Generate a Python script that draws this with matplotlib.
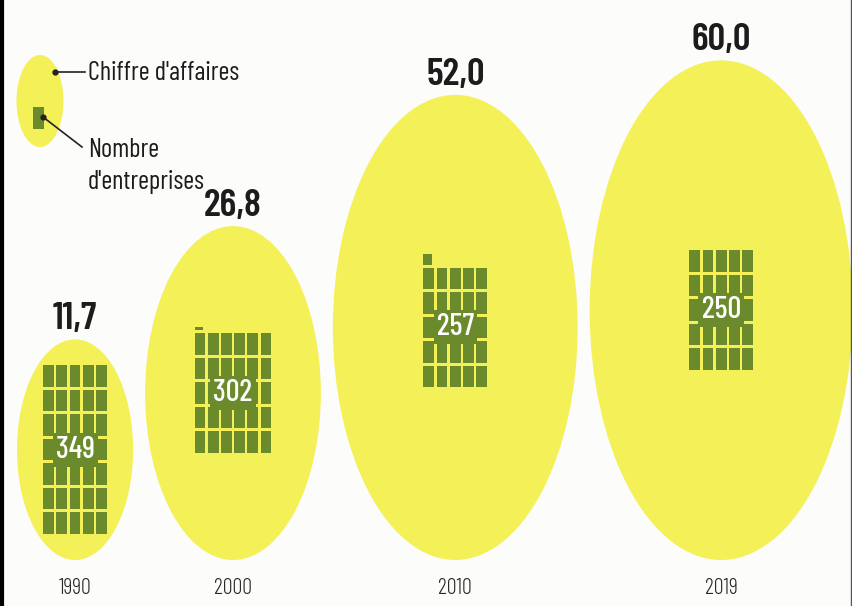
import numpy as np
import matplotlib
matplotlib.use("Agg")
import matplotlib.pyplot as plt
from matplotlib.patches import Ellipse, Rectangle

# ---- data ----
years = ["1990", "2000", "2010", "2019"]
revenue = [11.7, 26.8, 52.0, 60.0]          # Chiffre d'affaires
revenue_labels = ["11,7", "26,8", "52,0", "60,0"]
companies = [349, 302, 257, 250]            # Nombre d'entreprises
grid_cols = [5, 6, 5, 5]
legend_labels = ["Chiffre d'affaires", "Nombre\nd'entreprises"]

# ---- style / layout ----
FONT = ["Barlow Condensed", "DejaVu Sans"]
YELLOW = "#f4f058"
GREEN = "#6b8a2c"
K = 64.5          # height scale: h = K*sqrt(value)
ASPECT = 1.9      # height / width of each bubble
GAP = 12
LEFT = 17
BASE = 560        # common bottom of bubbles
PX, PY = 13.2, 24.5   # grid pitch
CW, CH = 10.8, 21.5   # cell size
PER_CELL = 10

fig = plt.figure(figsize=(8.52, 6.06), dpi=100)
fig.patch.set_facecolor("#fcfcfa")
ax = fig.add_axes([0, 0, 1, 1])
ax.set_xlim(0, 852)
ax.set_ylim(606, 0)
ax.axis("off")

left = LEFT
for yr, v, vl, n, cols in zip(years, revenue, revenue_labels, companies, grid_cols):
    h = K * np.sqrt(v)
    w = h / ASPECT
    cx = left + w / 2
    cy = BASE - h / 2
    left += w + GAP
    ax.add_patch(Ellipse((cx, cy), w, h, facecolor=YELLOW, edgecolor="none", zorder=1))

    cells = n / PER_CELL
    full = int(cells)
    frac = cells - full
    if frac > 0.8:
        full += 1
        frac = 0.0
    rows = int(np.ceil(full / cols))
    gw = cols * PX - (PX - CW)
    gh = rows * PY - (PY - CH)
    x0 = cx - gw / 2
    y0 = cy - gh / 2
    for i in range(full):
        r, c = divmod(i, cols)
        ax.add_patch(Rectangle((x0 + c * PX, y0 + r * PY), CW, CH,
                               facecolor=GREEN, edgecolor="none", zorder=2))
    if frac > 0:
        ph = CH * frac * 0.7
        pw = CW * 0.75
        ax.add_patch(Rectangle((x0, y0 - (PY - CH) - ph), pw, ph,
                               facecolor=GREEN, edgecolor="none", zorder=2))

    ax.text(cx, cy, str(n), ha="center", va="center",
            fontsize=22, fontweight=500, color="white", family=FONT, zorder=3,
            bbox=dict(boxstyle="square,pad=0.1", facecolor=GREEN, edgecolor="none"))
    ax.text(cx, cy - h / 2 - 3, vl, ha="center", va="bottom", fontsize=28,
            fontweight=600, color="#1c1c1c", family=FONT, zorder=3)
    ax.text(cx, 589, yr, ha="center", va="center", fontsize=16, fontweight=300,
            color="#2a2a2a", family=FONT, zorder=3)

# ---- legend ----
ax.add_patch(Ellipse((40, 101), 47, 92, facecolor=YELLOW, edgecolor="none", zorder=1))
ax.add_patch(Rectangle((33, 107), CW, CH, facecolor=GREEN, edgecolor="none", zorder=2))
ax.plot([55, 85], [72, 72], color="#222222", lw=1.2, zorder=3)
ax.plot([55], [72], "o", color="#222222", ms=3.5, zorder=3)
ax.plot([43, 82], [117, 147], color="#222222", lw=1.2, zorder=3)
ax.plot([43], [117], "o", color="#222222", ms=3.5, zorder=3)
ax.text(88, 73, legend_labels[0], ha="left", va="center", fontsize=19,
        color="#1c1c1c", family=FONT)
ax.text(88, 166, legend_labels[1], ha="left", va="center", fontsize=19,
        color="#1c1c1c", family=FONT, linespacing=1.45)

# frame lines
ax.plot([1.5, 1.5], [0, 606], color="black", lw=3, zorder=5)
ax.plot([850.5, 850.5], [0, 606], color="#555555", lw=1, zorder=5)

fig.savefig("out.png", dpi=100, facecolor=fig.get_facecolor())
